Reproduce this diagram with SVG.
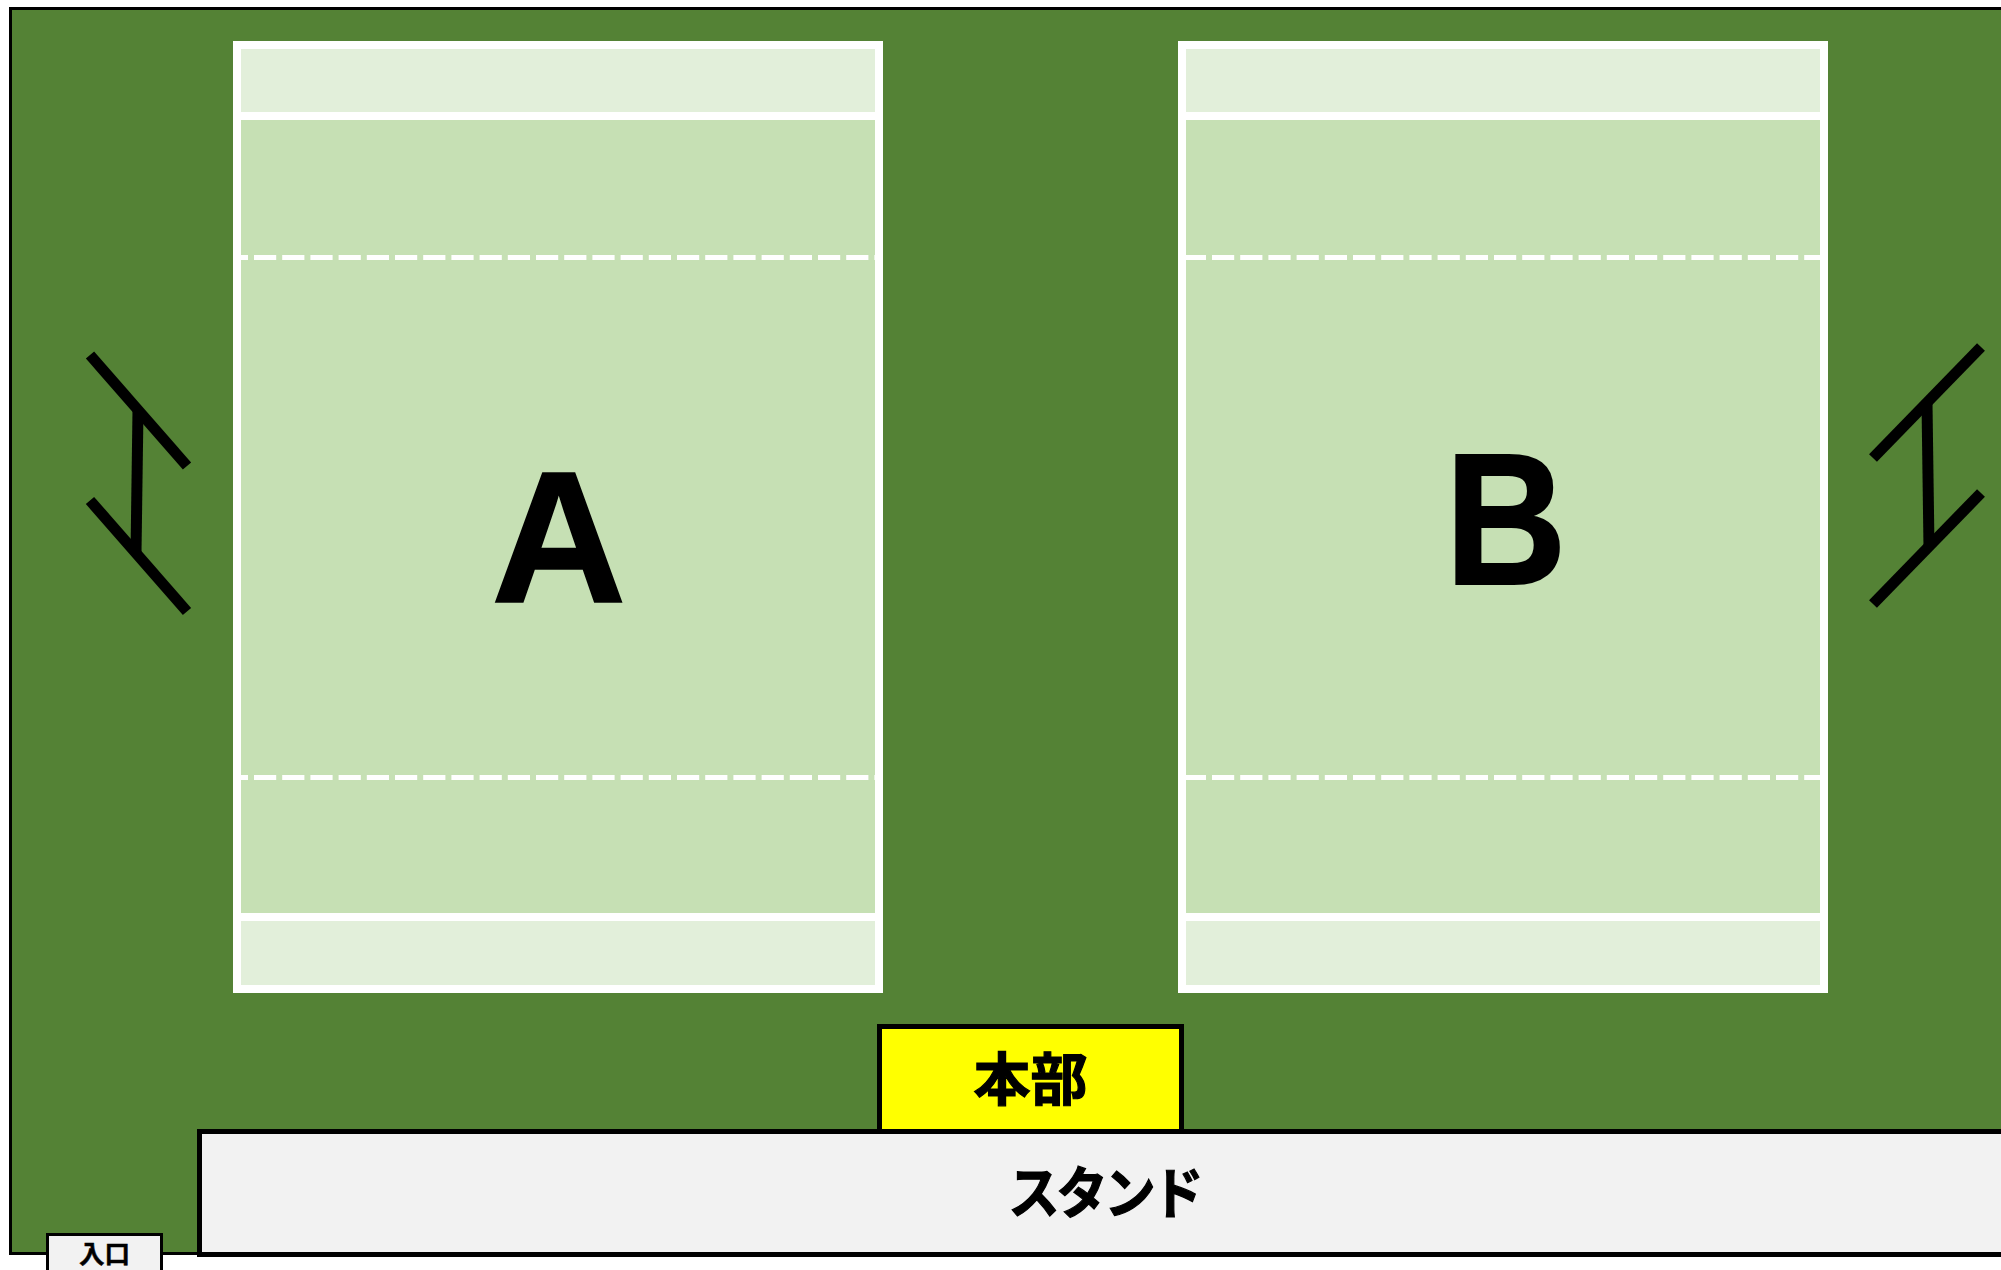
<svg xmlns="http://www.w3.org/2000/svg" width="2001" height="1270" viewBox="0 0 2001 1270">
<style>
.outer{fill:#548235;stroke:#000;stroke-width:3}
.end{fill:#e2efda}
.play{fill:#c6e0b4}
.line{stroke:#fff;stroke-width:8;fill:none}
.dash{stroke:#fff;stroke-width:5;stroke-dasharray:22.2 6;fill:none}
.box{stroke:#000;stroke-width:5}
.bar{stroke:#000;stroke-width:11;fill:none}
.big{font-family:"Liberation Sans",Arial,sans-serif;font-weight:700;font-size:187px;text-anchor:middle;fill:#000;stroke:#000;stroke-width:1.6}
.jp{font-family:"Noto Sans CJK JP","Liberation Sans",sans-serif;font-weight:700;text-anchor:middle;fill:#000;stroke:#000;stroke-width:1.2}
</style>
<rect id="ground" class="outer" x="10.5" y="8.5" width="2100" height="1245"/>
<g id="court-a">
<rect class="end" x="237" y="45" width="642" height="944"/>
<rect class="play" x="237" y="116" width="642" height="801"/>
<line class="dash" x1="241" y1="257.5" x2="875" y2="257.5" stroke-dashoffset="15.2"/>
<line class="dash" x1="241" y1="777.5" x2="875" y2="777.5" stroke-dashoffset="15.2"/>
<rect class="line" x="237" y="45" width="642" height="944"/>
<line class="line" x1="237" y1="116" x2="879" y2="116"/>
<line class="line" x1="237" y1="917" x2="879" y2="917"/>
<text class="big" x="558.7" y="601.5">A</text>
</g>
<g id="court-b">
<rect class="end" x="1182" y="45" width="642" height="944"/>
<rect class="play" x="1182" y="116" width="642" height="801"/>
<line class="dash" x1="1183.8" y1="257.5" x2="1820" y2="257.5"/>
<line class="dash" x1="1183.8" y1="777.5" x2="1820" y2="777.5"/>
<rect class="line" x="1182" y="45" width="642" height="944"/>
<line class="line" x1="1182" y1="116" x2="1824" y2="116"/>
<line class="line" x1="1182" y1="917" x2="1824" y2="917"/>
<text class="big" transform="translate(1505.7 584.2) scale(.9 1)" style="stroke-width:2">B</text>
</g>
<g id="gate-left">
<line class="bar" x1="90" y1="355" x2="187" y2="466"/>
<line class="bar" x1="90" y1="500.5" x2="187" y2="611.5"/>
<line class="bar" x1="138" y1="410" x2="136" y2="553"/>
</g>
<g id="gate-right">
<line class="bar" x1="1981" y1="347" x2="1873" y2="458"/>
<line class="bar" x1="1981" y1="493" x2="1873" y2="604"/>
<line class="bar" x1="1927" y1="403" x2="1929" y2="548"/>
</g>
<g id="honbu">
<rect class="box" x="879.5" y="1026.5" width="302" height="110" fill="#ffff00"/>
<text class="jp" x="1030.5" y="1099.7" font-size="57">本部</text>
</g>
<g id="stand">
<rect class="box" x="199.5" y="1131.5" width="1900" height="123" fill="#f2f2f2"/>
<text class="jp" transform="translate(1104.3 1213) scale(.92 1)" font-size="56" letter-spacing="-3.8">スタンド</text>
</g>
<g id="entrance">
<rect x="47.5" y="1234.5" width="114" height="60" fill="#f2f2f2" stroke="#000" stroke-width="3"/>
<text class="jp" x="104.5" y="1263" font-size="25.5" style="stroke-width:.5">入口</text>
</g>
</svg>
